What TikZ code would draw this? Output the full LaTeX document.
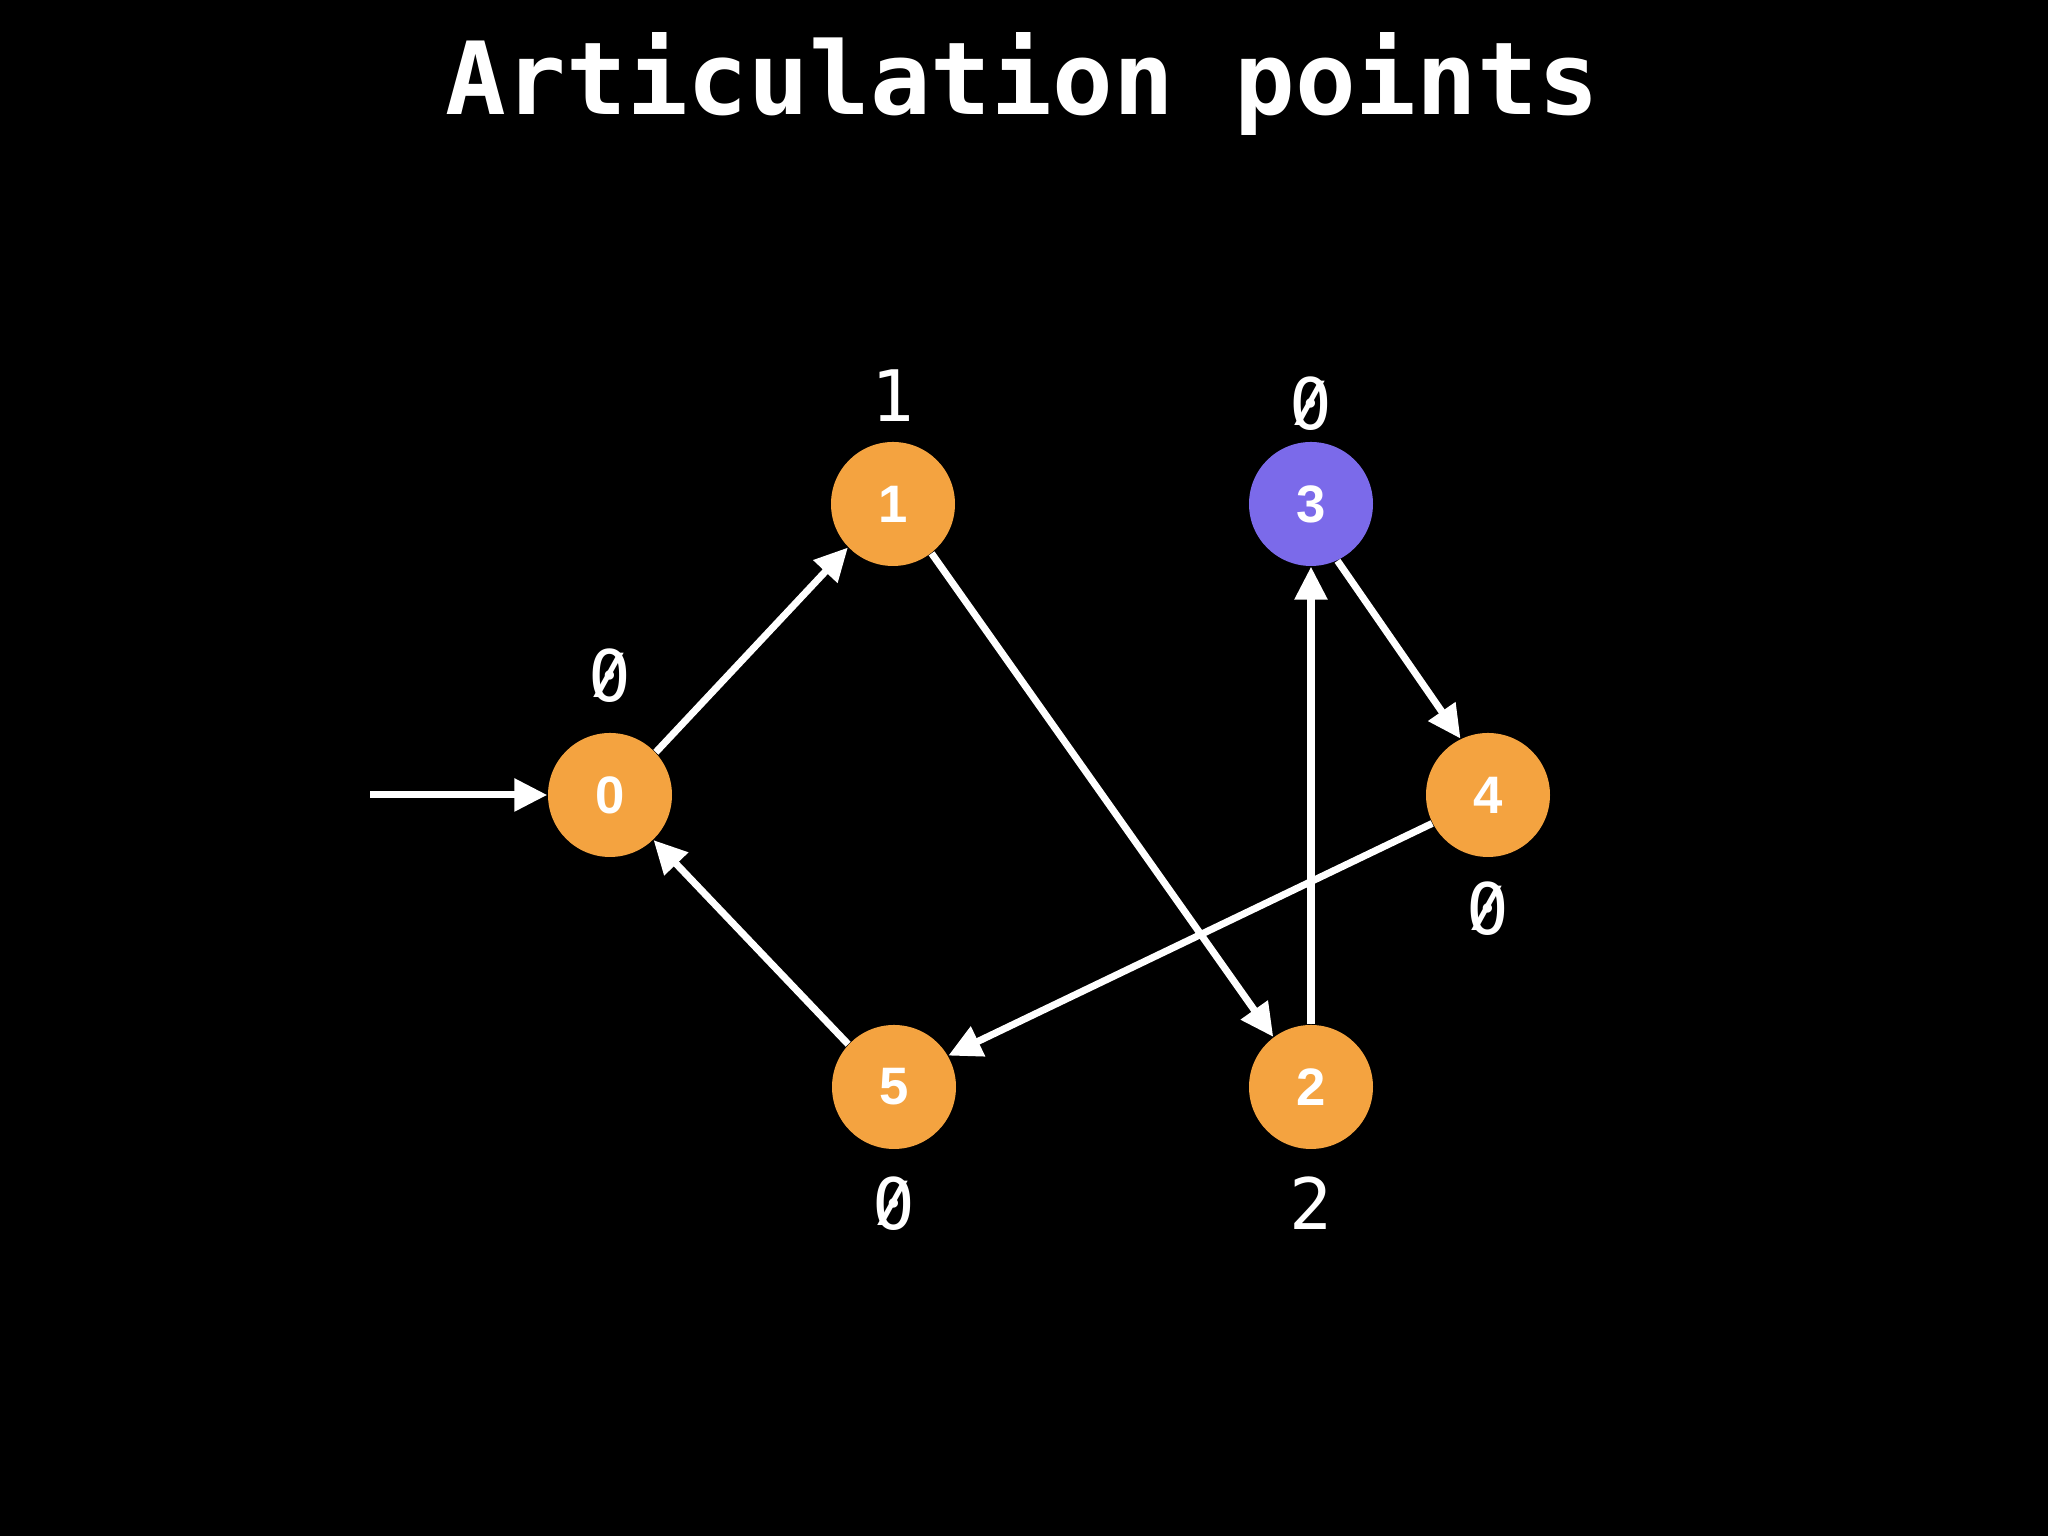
\documentclass[tikz,border=0pt]{standalone}
\usepackage{fontspec}
\setmainfont{Liberation Sans}
\newfontfamily\monofont{DejaVu Sans Mono}
\usetikzlibrary{calc,positioning,arrows.meta}
\definecolor{vorange}{HTML}{F4A340}
\definecolor{vpurple}{HTML}{7B6AEA}
% slashed zero for the low values
\newcommand\slzero{\ooalign{0\cr\hidewidth\raisebox{0.12em}{\scalebox{0.9}[0.76]{/}}\hidewidth\cr}}

\begin{document}
\begin{tikzpicture}[x=1cm,y=1cm,
  vertex/.style={circle,fill=vorange,minimum size=1.24cm,inner sep=0pt,text=white,font=\fontsize{15}{16}\selectfont\bfseries},
  low/.style={text=white,inner sep=0pt,font=\monofont\fontsize{20.2}{22}\selectfont},
  edge/.style={draw=white,line width=2pt,-{Triangle[length=9.4pt,width=9pt]}}]
\fill[black] (0,0) rectangle (20.48,15.36);
\node [anchor=base,text=white,inner sep=0pt,font=\monofont\bfseries\fontsize{28.7}{30}\selectfont] (Title) at (10.22,14.21) {Articulation points};
\node [vertex] (v0) at (6.10,7.41) {0};
\node [vertex] (v1) at (8.93,10.32) {1};
\node [vertex,fill=vpurple] (v3) at (13.11,10.32) {3};
\node [vertex] (v4) at (14.88,7.41) {4};
\node [vertex] (v5) at (8.94,4.49) {5};
\node [vertex] (v2) at (13.11,4.49) {2};
\node [low] (l0) at ($(v0)+(0,1.20)$) {\slzero};
\node [low] (l1) at ($(v1)+(0,1.08)$) {1};
\node [low] (l3) at ($(v3)+(0,1.01)$) {\slzero};
\node [low] (l4) at ($(v4)+(0,-1.13)$) {\slzero};
\node [low] (l5) at ($(v5)+(0,-1.16)$) {\slzero};
\node [low] (l2) at ($(v2)+(0,-1.16)$) {2};
\coordinate (start) at (3.70,7.41);
\draw [edge] (start) -- (v0);
\draw [edge] (v0.43) -- (v1.224);
\draw [edge] (v1.-52) -- (v2.127);
\draw [edge] (v2) -- (v3);
\draw [edge] (v3.-65) -- (v4.116);
\draw [edge] (v4.207) -- (v5.30);
\draw [edge] (v5.137) -- (v0.-46);
\end{tikzpicture}
\end{document}
